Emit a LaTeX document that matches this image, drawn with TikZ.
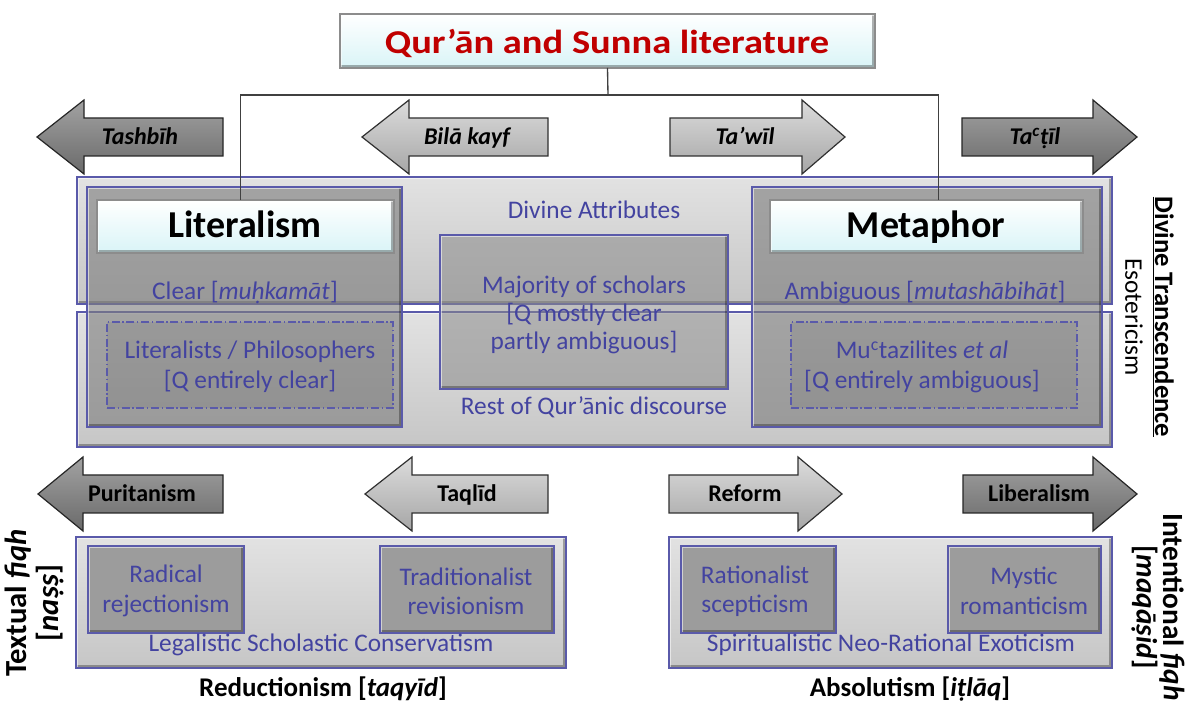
\documentclass[tikz,border=0pt]{standalone}
\usepackage{fontspec}
\usepackage{graphicx}
\setmainfont{Carlito}
\usetikzlibrary{fit,calc}

\definecolor{inkblue}{HTML}{4343A0}
\definecolor{rimblue}{HTML}{5A5AAA}
\definecolor{titlered}{HTML}{C00000}
\definecolor{wiregray}{HTML}{404040}
\definecolor{paneltop}{HTML}{E2E2E2}
\definecolor{panelbot}{HTML}{C6C6C6}
\definecolor{colfill}{HTML}{7E7E7E}
\definecolor{corefill}{HTML}{8A8A8A}
\definecolor{cellfill}{HTML}{9C9C9C}
\definecolor{caprim}{HTML}{8C8C8C}
\definecolor{capbot}{HTML}{D9F4F7}
\definecolor{darkrim}{HTML}{262626}
\definecolor{darktop}{HTML}{A2A2A2}
\definecolor{darkbot}{HTML}{6A6A6A}
\definecolor{lightrim}{HTML}{303030}
\definecolor{lighttop}{HTML}{DCDCDC}
\definecolor{lightbot}{HTML}{A6A6A6}

% horizontal block arrow: tip x, head-base x, tail x, centre y, style
\newcommand\blockarrow[5]{%
  \draw[#5] (#3,#4-19) -- (#2,#4-19) -- (#2,#4-37) -- (#1,#4)
     -- (#2,#4+37) -- (#2,#4+19) -- (#3,#4+19) -- cycle;}

\tikzset{
  bevel/.style={path picture={
    \draw[black,opacity=.30,line width=5pt]
      (path picture bounding box.north east) -- (path picture bounding box.south east)
      -- (path picture bounding box.south west);
    \draw[white,opacity=.55,line width=3pt]
      (path picture bounding box.south west) -- (path picture bounding box.north west)
      -- (path picture bounding box.north east);}},
  box/.style={inner sep=0pt, outer sep=0pt, rectangle},
  panel/.style={box, draw=rimblue, line width=1.1pt, top color=paneltop, bottom color=panelbot, bevel},
  column/.style={box, draw=rimblue, line width=1.1pt, fill=colfill, fill opacity=.62, bevel},
  core/.style={box, draw=rimblue, line width=1.1pt, fill=corefill, fill opacity=.55, bevel},
  dotted box/.style={box, draw=rimblue, line width=.8pt, dash pattern=on 6pt off 2pt on 1pt off 2pt, fill=black, fill opacity=.06},
  cell/.style={box, draw=rimblue, line width=1.1pt, fill=cellfill, bevel},
  capbox/.style={box, draw=caprim, line width=1.2pt, top color=white, bottom color=capbot, bevel},
  darkarrow/.style={draw=darkrim, line width=.9pt, top color=darktop, bottom color=darkbot},
  lightarrow/.style={draw=lightrim, line width=.9pt, top color=lighttop, bottom color=lightbot},
  txt/.style={inner sep=0pt, align=center},
  btxt/.style={inner sep=0pt, anchor=base},
  bluefont/.style={text=inkblue, font=\fontsize{19}{22}\selectfont},
  blue/.style={txt, bluefont},
  blueline/.style={btxt, bluefont},
  arrowtext/.style={btxt, font=\fontsize{18}{20}\selectfont\bfseries},
  headtext/.style={btxt, font=\fontsize{28.5}{32}\selectfont\bfseries},
  axislabel/.style={btxt, font=\fontsize{20.25}{24}\selectfont\bfseries},
  wire/.style={draw=wiregray, line width=1pt},
}

\begin{document}
\begin{tikzpicture}[x=0.75pt, y=-0.75pt]
\useasboundingbox (0,0) rectangle (1186,705);

% ---- title and its tree ----
\node[capbox, fit={(340,14) (875,68)}] (title) {};
\node[btxt, text=titlered, font=\fontsize{25}{28}\selectfont\bfseries] (titletext) at (607,53.5)
  {\scalebox{1.155}[1]{Qur’ān and Sunna literature}};
\coordinate (hub) at (608,95);

% ---- upper arrows ----
\blockarrow{37}{84}{223}{137}{darkarrow}
\blockarrow{362}{409}{548}{137}{lightarrow}
\blockarrow{845}{802}{670}{137}{lightarrow}
\blockarrow{1137}{1093}{962}{137}{darkarrow}
\node[arrowtext] (tashbih) at (140,145) {\itshape Tashbīh};
\node[arrowtext] (bilakayf) at (467,145) {\itshape Bilā kayf};
\node[arrowtext] (tawil) at (745,145) {\itshape Ta’wīl};
\node[arrowtext] (tatil) at (1035,145) {\itshape Ta\textsuperscript{c}ṭīl};

% ---- divine attributes block ----
\node[panel, fit={(77,177) (1112,304)}] (upper) {};
\node[panel, fit={(77,312) (1112,447)}] (lower) {};

\node[column, fit={(87,187) (402,427)}] (litcol) {};
\node[column, fit={(752,187) (1102,427)}] (metcol) {};
\node[core, fit={(440,235) (728,389)}] (majority) {};

\node[capbox, fit={(97,200) (394,253)}] (lit) {};
\node[headtext] (littext) at (245,238) {Literalism};
\node[capbox, fit={(770,200) (1083,253)}] (met) {};
\node[headtext] (mettext) at (926,238) {Metaphor};

\node[blueline] (clear) at (245,300) {Clear [\textit{muḥkamāt}]};
\node[blueline] (ambig) at (925,300) {Ambiguous [\textit{mutashābihāt}]};

\node[dotted box, fit={(107,322) (393,408)}] (litdash) {};
\node[blue, font=\fontsize{19}{22.5}\selectfont] (litphil) at (250,367) {Literalists / Philosophers\\{}[Q entirely clear]};
\node[dotted box, fit={(791,322) (1077,408)}] (metdash) {};
\node[blue, font=\fontsize{19}{22.5}\selectfont] (mutaz) at (922,367) {Mu\textsuperscript{c}tazilites \textit{et al}\\{}[Q entirely ambiguous]};

\node[blueline] (attrib) at (594,219) {Divine Attributes};
\node[blue, font=\fontsize{19}{21}\selectfont] (majtext) at (584,315) {Majority of scholars\\{}[Q mostly clear\\partly ambiguous]};
\node[blueline] (rest) at (594,415) {Rest of Qur’ānic discourse};

\node[txt, rotate=-90, font=\fontsize{20}{24}\selectfont\bfseries] (transc) at (1163,317) {\underline{Divine Transcendence}};
\node[txt, rotate=-90, font=\fontsize{19}{22}\selectfont] (esot) at (1134,317) {Esotericism};

% ---- lower arrows ----
\blockarrow{38}{83}{223}{494}{darkarrow}
\blockarrow{365}{412}{548}{494}{lightarrow}
\blockarrow{842}{798}{669}{494}{lightarrow}
\blockarrow{1137}{1093}{963}{494}{darkarrow}
\node[arrowtext] (purit) at (142,502) {Puritanism};
\node[arrowtext] (taqlid) at (467,502) {Taqlīd};
\node[arrowtext] (reform) at (745,502) {Reform};
\node[arrowtext] (liberal) at (1039,502) {Liberalism};

% ---- fiqh blocks ----
\node[panel, fit={(76,537) (566,668)}] (textual) {};
\node[cell, fit={(88,546) (244,633)}] (radical) {};
\node[cell, fit={(380,546) (554,633)}] (tradit) {};
\node[blue] (radtext) at (166,591) {Radical\\rejectionism};
\node[blue] (tradtext) at (466,591) {Traditionalist\\revisionism};
\node[blueline] (legal) at (321,652) {Legalistic Scholastic Conservatism};

\node[panel, fit={(669,537) (1112,668)}] (intent) {};
\node[cell, fit={(681,546) (836,633)}] (ration) {};
\node[cell, fit={(948,546) (1101,633)}] (mystic) {};
\node[blue] (rattext) at (755,591) {Rationalist\\scepticism};
\node[blue] (mystext) at (1024,591) {Mystic\\romanticism};
\node[blueline] (spirit) at (891,652) {Spiritualistic Neo-Rational Exoticism};

\node[axislabel] (reduct) at (323,696) {Reductionism [\textit{taqyīd}]};
\node[axislabel] (absol) at (910,696) {Absolutism [\textit{iṭlāq}]};
\node[txt, rotate=90, font=\fontsize{23}{24}\selectfont\bfseries] (textfiqh) at (34,603) {Textual \textit{fiqh}\\{}[\textit{naṣṣ}]};
\node[txt, rotate=-90, font=\fontsize{22}{20.5}\selectfont\bfseries] (intfiqh) at (1158,607) {Intentional \textit{fiqh}\\{}[\textit{maqāṣid}]};

% ---- connectors from the title ----
\draw[wire] (title.south) -- (hub);
\draw[wire] (hub) -| ($(lit.north)+(-5,0)$);
\draw[wire] (hub) -| ($(met.north)+(12,0)$);
\end{tikzpicture}
\end{document}
